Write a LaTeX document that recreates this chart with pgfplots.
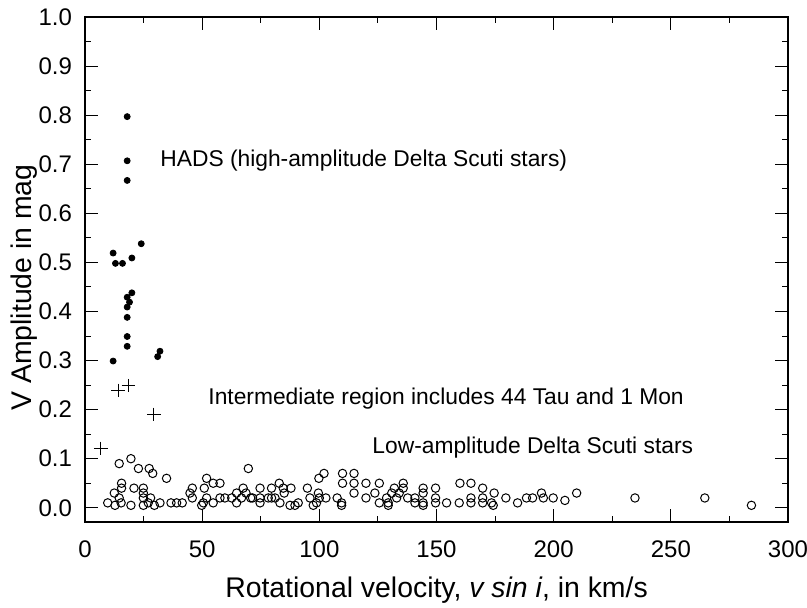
\documentclass[border=0pt]{standalone}
\usepackage{fontspec}
\setmainfont{Liberation Sans}
\usepackage{pgfplots}
\pgfplotsset{compat=1.18}

\begin{document}
\begin{tikzpicture}
\begin{axis}[
  name=ax,
  scale only axis,
  width=351.5pt, height=252.5pt,
  xmin=0, xmax=300,
  ymin=-0.029, ymax=1.0,
  xtick distance=50,
  ytick={0,0.1,...,1.0},
  minor x tick num=1,
  minor y tick num=1,
  tick align=inside,
  major tick length=6.5pt,
  minor tick length=3.2pt,
  every tick/.style={black, line width=0.5pt},
  axis line style={line width=0.6pt},
  /pgf/number format/assume math mode=true,
  tick label style={font=\fontsize{12}{14}\selectfont},
  yticklabel style={/pgf/number format/.cd, fixed, fixed zerofill, precision=1, /tikz/.cd, xshift=-3pt},
  xticklabel style={yshift=-6pt},
  scaled y ticks=false,
  xlabel={Rotational velocity, \textit{v sin i}, in km/s},
  ylabel={V Amplitude in mag},
  xlabel style={font=\fontsize{14.2}{16}\selectfont, at={(axis description cs:0.5,0)}, anchor=center, yshift=-34pt},
  ylabel style={font=\fontsize{14.2}{16}\selectfont, at={(axis description cs:0,0.5)}, anchor=center, yshift=30.5pt, xshift=-9pt},
  clip=false,
]
% HADS
\addplot[only marks, mark=*, mark size=1.5pt, black] coordinates {
  (18,0.797)(18,0.707)(18,0.667)(24,0.538)(12,0.519)(13,0.498)(16,0.498)
  (20,0.509)(20,0.438)(18,0.429)(19,0.419)(18,0.409)(18,0.388)(18,0.349)
  (18,0.329)(32,0.319)(31,0.308)(12,0.299)
};
% intermediate
\addplot[only marks, mark=+, mark size=3.4pt, black, mark options={line width=0.5pt}] coordinates {
  (14.2,0.239)(18.5,0.249)(29.4,0.19)(6.7,0.121)
};
% low amplitude
\addplot[only marks, mark=o, mark size=2.1pt, black, mark options={line width=0.5pt}] coordinates {
  (14.6,0.09)(19.6,0.10)(22.8,0.08)(27.4,0.08)(28.9,0.07)(34.8,0.06)(69.7,0.08)
  (15.6,0.05)(15.6,0.04)(12.5,0.03)(14.6,0.02)(9.7,0.01)(12.8,0.005)(15.4,0.01)(19.6,0.005)
  (20.9,0.04)(24.9,0.04)(24.9,0.03)(24.9,0.02)(24.9,0.005)(28,0.02)(27,0.01)(29.6,0.005)(32,0.01)
  (36.7,0.01)(39.1,0.01)(41.5,0.01)(45.8,0.04)(44.8,0.03)(45.8,0.02)(49.8,0.005)(50.9,0.04)(51.9,0.06)
  (54.7,0.05)(57.6,0.05)(51.9,0.02)(50.5,0.01)(54.7,0.01)(57.6,0.02)(59.7,0.02)(62.6,0.02)(64.7,0.01)
  (64.7,0.03)(67.5,0.04)(68.7,0.03)(66.8,0.02)(70.7,0.02)(74.7,0.04)(74.7,0.01)
  (79.6,0.04)(82.9,0.05)(84.6,0.04)(87.9,0.04)(85.0,0.03)(81.1,0.02)(79.6,0.02)(78.2,0.02)(74.7,0.02)
  (71.5,0.02)(83.2,0.01)(87.5,0.005)(89.6,0.005)(91.0,0.01)(94.9,0.04)(96,0.02)(97.4,0.005)(98.8,0.01)
  (99.6,0.03)(99.8,0.06)(102,0.07)(102.8,0.02)(100,0.02)(107.6,0.02)(109.5,0.005)(109.5,0.01)
  (109.9,0.07)(109.9,0.05)(114.8,0.07)(114.8,0.05)(114.8,0.03)(119.9,0.05)(119.9,0.02)(123.7,0.03)
  (125.6,0.05)(125.6,0.01)(128.7,0.02)(129.4,0.01)(129.4,0.005)(130.9,0.03)(132,0.04)(133,0.02)
  (134.1,0.03)(135.8,0.05)(135.8,0.04)(137.7,0.02)(140.8,0.02)(140.8,0.01)(144.3,0.04)(144.3,0.03)
  (144.3,0.01)(144.3,0.005)(149.6,0.04)(149.6,0.02)(149.6,0.01)(154.3,0.01)
  (159.7,0.01)(160,0.05)(164.7,0.05)(164.7,0.02)(164.7,0.01)(169.7,0.04)(169.7,0.02)(169.7,0.01)
  (173.5,0.01)(174.2,0.005)(174.6,0.03)(179.6,0.02)(184.6,0.01)(188.4,0.02)(191,0.02)(194.8,0.03)
  (195.6,0.02)(199.8,0.02)(204.8,0.015)(209.8,0.03)
  (234.7,0.02)(264.5,0.02)(284.4,0.005)
};
\node[anchor=west, font=\fontsize{11.4}{13}\selectfont, inner sep=0pt] at (axis cs:32,0.707) {HADS (high-amplitude Delta Scuti stars)};
\node[anchor=west, font=\fontsize{11.4}{13}\selectfont, inner sep=0pt] at (axis cs:52.5,0.223) {Intermediate region includes 44 Tau and 1 Mon};
\node[anchor=west, font=\fontsize{11.4}{13}\selectfont, inner sep=0pt] at (axis cs:122.5,0.123) {Low-amplitude Delta Scuti stars};
\end{axis}
\pgfresetboundingbox
\path[use as bounding box] ([xshift=-42.5pt,yshift=-42.5pt]ax.south west) rectangle ([xshift=9.5pt,yshift=8.5pt]ax.north east);
\end{tikzpicture}
\end{document}
